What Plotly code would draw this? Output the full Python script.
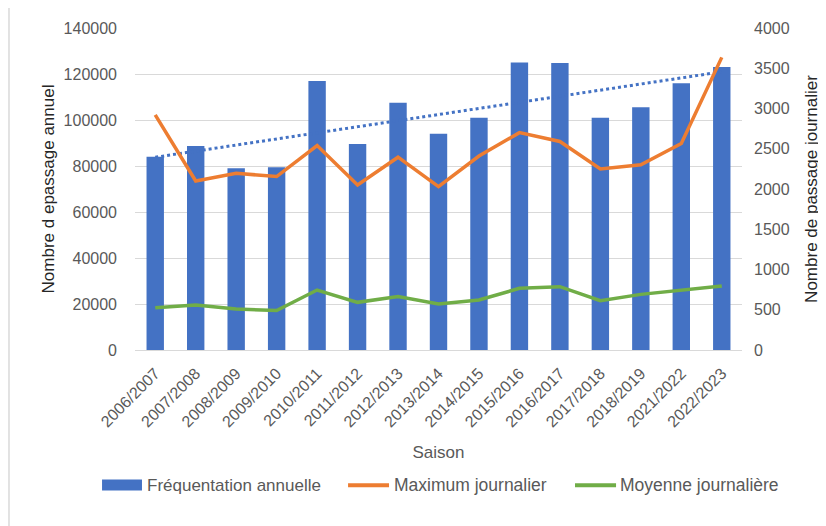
import numpy as np
import plotly.graph_objects as go

saisons = ["2006/2007", "2007/2008", "2008/2009", "2009/2010", "2010/2011", "2011/2012",
           "2012/2013", "2013/2014", "2014/2015", "2015/2016", "2016/2017", "2017/2018",
           "2018/2019", "2021/2022", "2022/2023"]
frequentation_annuelle = [84000, 88700, 79000, 79500, 117000, 89600, 107500, 94000,
                          101000, 125000, 124800, 101000, 105500, 116000, 123000]
maximum_journalier = [2920, 2100, 2195, 2155, 2540, 2050, 2395, 2030, 2410, 2700,
                      2590, 2250, 2300, 2565, 3635]
moyenne_journaliere = [525, 560, 510, 490, 745, 592, 663, 571, 621, 766, 787, 613,
                       691, 745, 795]
left_ticks = [0, 20000, 40000, 60000, 80000, 100000, 120000, 140000]
right_ticks = [0, 500, 1000, 1500, 2000, 2500, 3000, 3500, 4000]
legend_labels = ["Fréquentation annuelle", "Maximum journalier", "Moyenne journalière"]

# Linear trend of annual attendance (as the spreadsheet trendline)
idx = np.arange(len(saisons))
slope, intercept = np.polyfit(idx, frequentation_annuelle, 1)
trend = slope * idx + intercept

BLUE = "#4472C4"
ORANGE = "#ED7D31"
GREEN = "#70AD47"
FONT = "Liberation Sans"
TICK = "#595959"
FRAME = "#D9D9D9"

fig = go.Figure()
fig.add_trace(go.Bar(x=saisons, y=frequentation_annuelle, name=legend_labels[0],
                     marker=dict(color=BLUE, line=dict(width=0)), yaxis="y"))
fig.add_trace(go.Scatter(x=saisons, y=list(trend), mode="lines", name="Tendance",
                         line=dict(color=BLUE, width=3, dash="dot"), yaxis="y"))
fig.add_trace(go.Scatter(x=saisons, y=maximum_journalier, mode="lines", name=legend_labels[1],
                         line=dict(color=ORANGE, width=3.5), yaxis="y2"))
fig.add_trace(go.Scatter(x=saisons, y=moyenne_journaliere, mode="lines", name=legend_labels[2],
                         line=dict(color=GREEN, width=3.5), yaxis="y2"))

# Legend drawn as in the original (wide swatches), positions in plot-paper fractions
leg_y = -0.42
shapes = [
    # chart frame (top and left edges visible in the original)
    dict(type="line", xref="paper", yref="paper", x0=-0.2076, x1=1.2,
         y0=1.0683, y1=1.0683, line=dict(color=FRAME, width=1.5), layer="below"),
    dict(type="line", xref="paper", yref="paper", x0=-0.2076, x1=-0.2076,
         y0=1.0683, y1=-0.6, line=dict(color=FRAME, width=1.5), layer="below"),
    dict(type="rect", xref="paper", yref="paper", x0=-0.0543, x1=0.0115,
         y0=-0.436, y1=-0.402, fillcolor=BLUE, line=dict(width=0)),
    dict(type="line", xref="paper", yref="paper", x0=0.351, x1=0.4185,
         y0=leg_y, y1=leg_y, line=dict(color=ORANGE, width=4)),
    dict(type="line", xref="paper", yref="paper", x0=0.7249, x1=0.7925,
         y0=leg_y, y1=leg_y, line=dict(color=GREEN, width=4)),
]
annotations = [
    dict(text=legend_labels[0], xref="paper", yref="paper", x=0.0165, y=leg_y,
         xanchor="left", yanchor="middle", showarrow=False, font=dict(size=17, color=TICK)),
    dict(text=legend_labels[1], xref="paper", yref="paper", x=0.4234, y=leg_y,
         xanchor="left", yanchor="middle", showarrow=False, font=dict(size=17.5, color=TICK)),
    dict(text=legend_labels[2], xref="paper", yref="paper", x=0.7958, y=leg_y,
         xanchor="left", yanchor="middle", showarrow=False, font=dict(size=17.5, color=TICK)),
]

fig.update_layout(
    width=818, height=518,
    margin=dict(l=127, r=84, t=20, b=176, autoexpand=False),
    paper_bgcolor="white", plot_bgcolor="white",
    font=dict(family=FONT, size=16, color=TICK),
    bargap=0.57,
    showlegend=False,
    xaxis=dict(tickangle=-45, tickfont=dict(size=16, color=TICK), showgrid=False,
               showline=False, ticks="", ticklabelstandoff=10, automargin=False,
               title=dict(text="Saison", font=dict(size=17, color=TICK), standoff=16)),
    yaxis=dict(range=[0, 140000], tickvals=left_ticks, ticktext=[str(v) for v in left_ticks],
               showgrid=True, gridcolor=FRAME, gridwidth=1, zeroline=True,
               zerolinecolor=FRAME, zerolinewidth=1, showline=False, ticks="",
               tickfont=dict(size=16, color=TICK), ticklabelstandoff=17, automargin=False,
               title=dict(text="Nombre d epassage annuel", font=dict(size=17, color="#262626"),
                          standoff=4)),
    yaxis2=dict(range=[0, 4000], tickvals=right_ticks, ticktext=[str(v) for v in right_ticks],
                overlaying="y", side="right", showgrid=False, zeroline=False, showline=False,
                ticks="", tickfont=dict(size=16, color=TICK), ticklabelstandoff=11,
                automargin=False,
                title=dict(text="Nombre de passage journalier", font=dict(size=17, color="#262626"),
                           standoff=16)),
    shapes=shapes,
    annotations=annotations,
)

fig.write_html("out.html")
